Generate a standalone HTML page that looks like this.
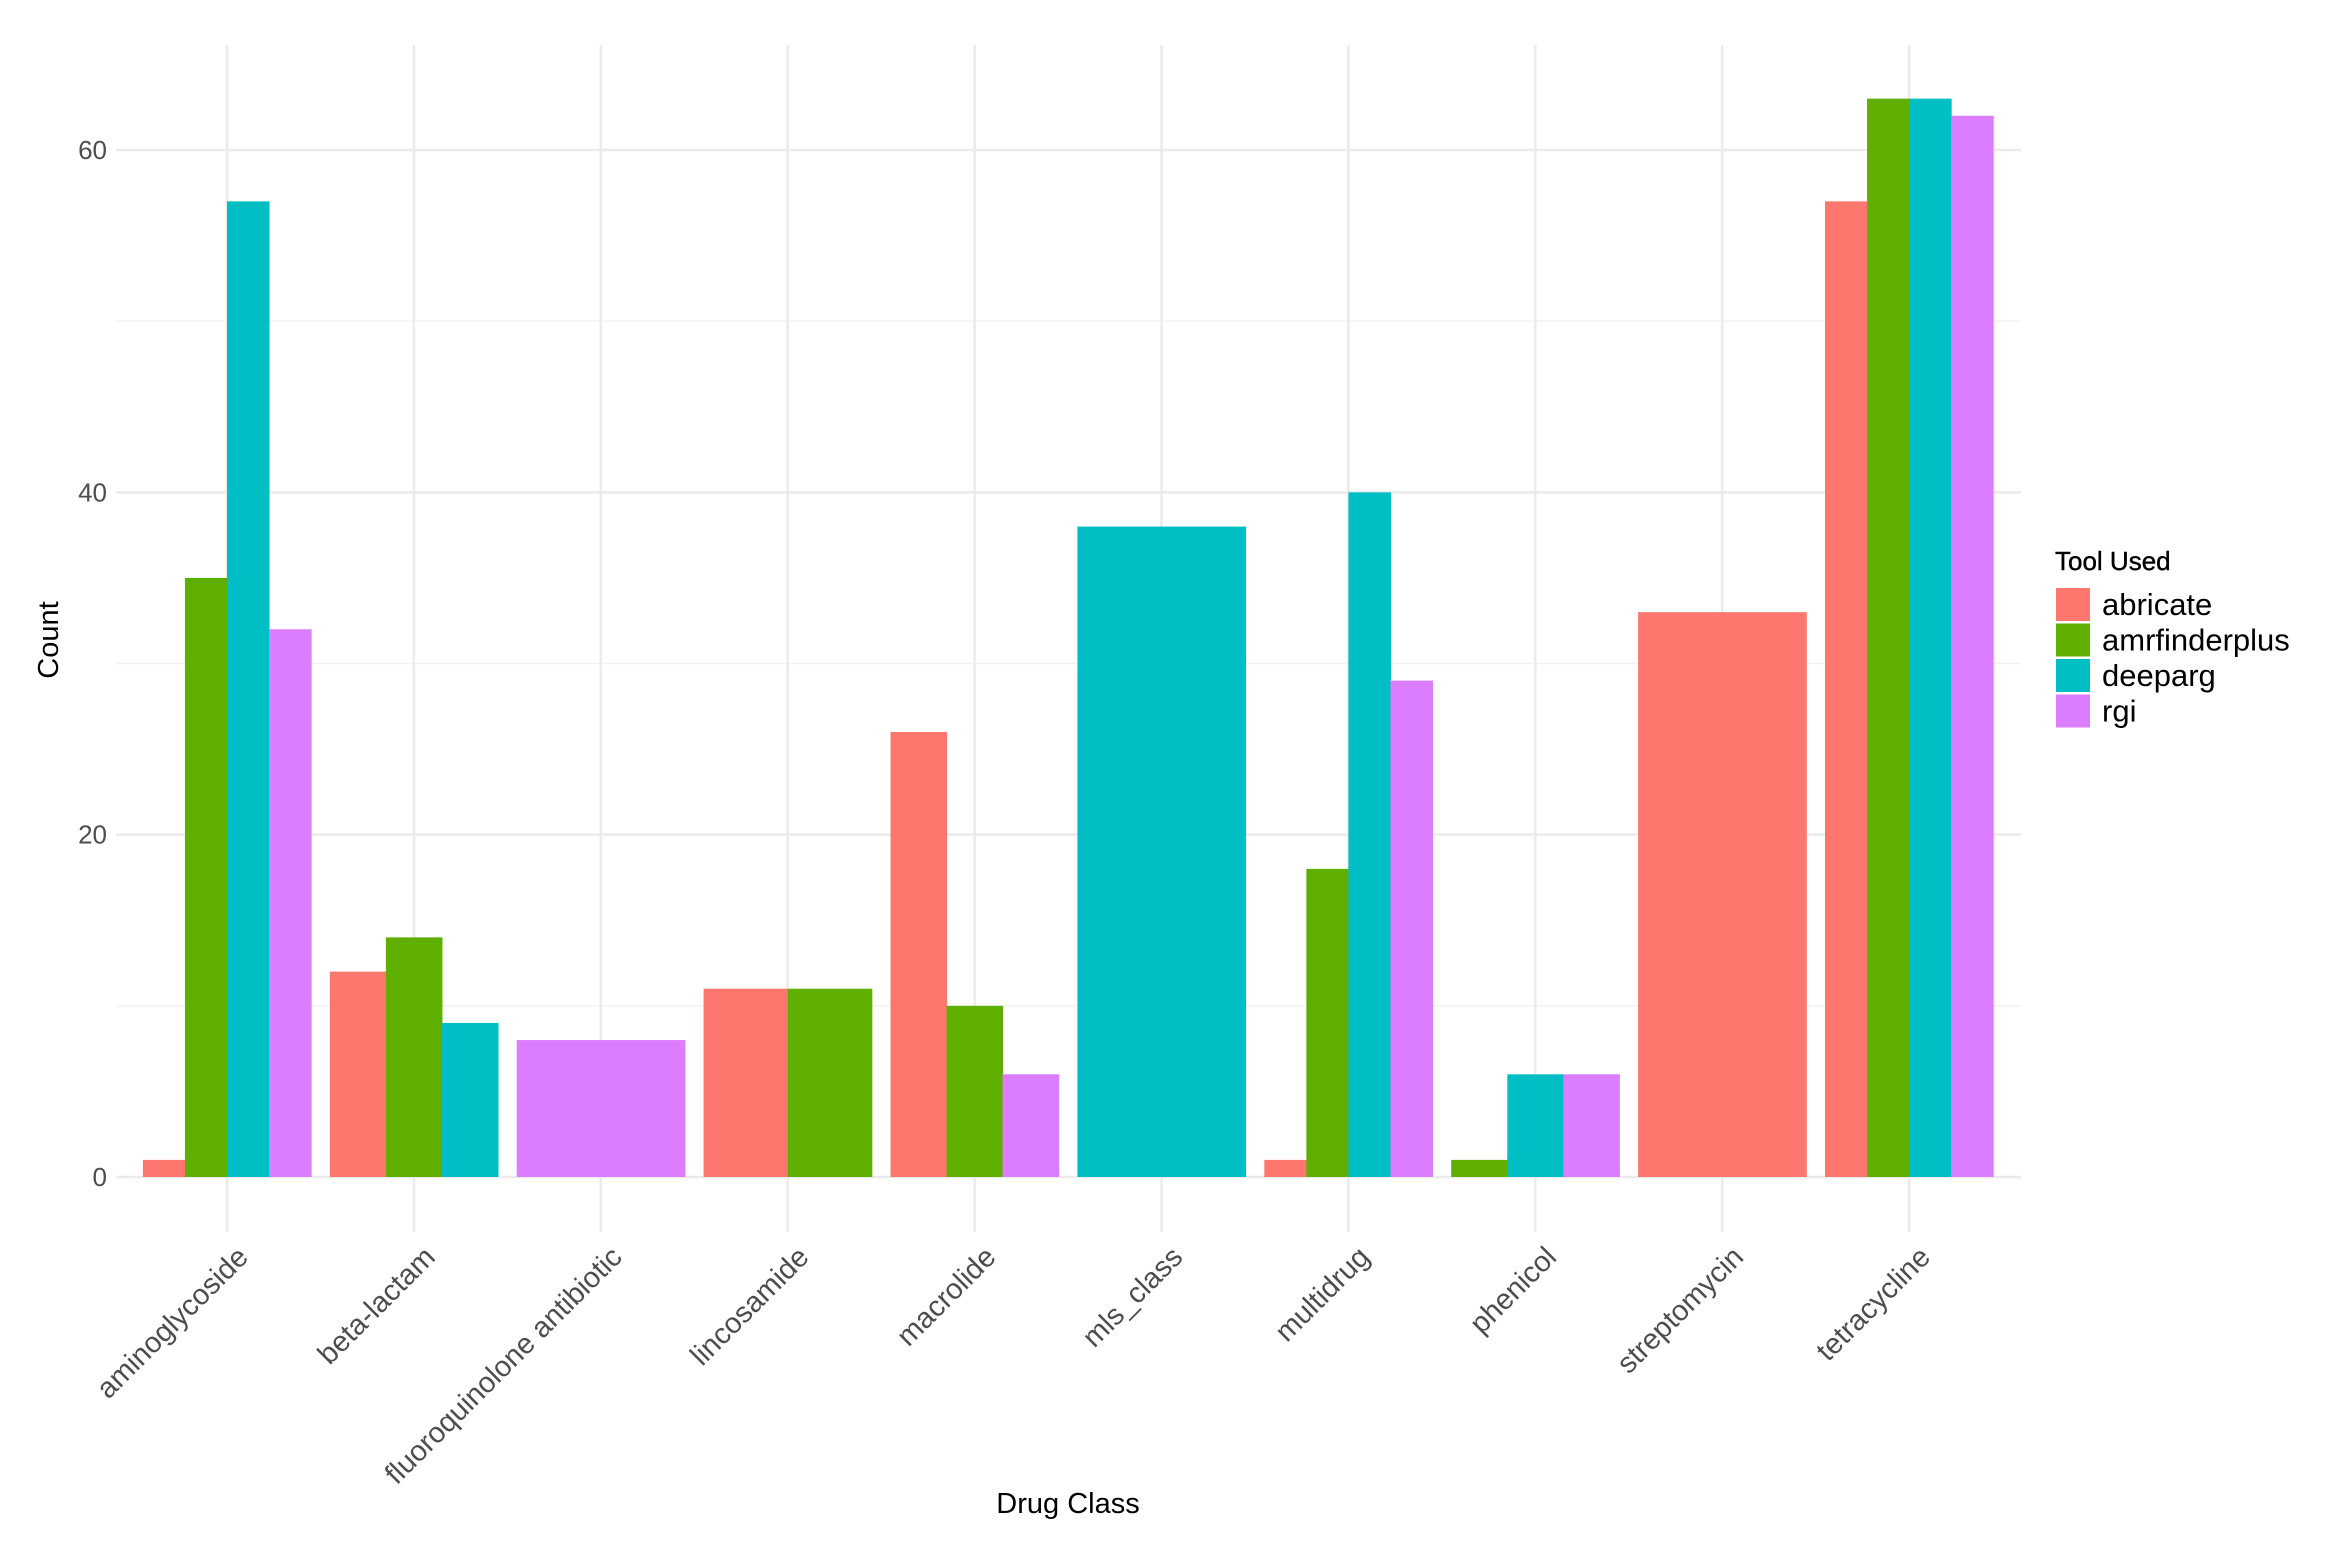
<!DOCTYPE html>
<html><head><meta charset="utf-8"><style>
html,body{margin:0;padding:0;background:#fff;}
svg{display:block;font-family:"Liberation Sans",Arial,sans-serif;}
</style></head><body>
<svg id="chart" width="2331" height="1554" viewBox="0 0 2331 1554" xmlns="http://www.w3.org/2000/svg">
<rect x="0" y="0" width="2331" height="1554" fill="#fff"/>
<g id="grid"></g>
<g id="bars"></g>
<g id="yticks"></g>
<g id="xticks"></g>
<text x="0" y="0" transform="translate(58,640) rotate(-90)" text-anchor="middle" font-size="29" fill="#000">Count</text>
<text x="1068" y="1513" text-anchor="middle" font-size="29" fill="#000">Drug Class</text>
<g id="legend">
<text x="2055" y="570" font-size="26" fill="#000" stroke="#000" stroke-width="0.4">Tool Used</text>
</g>
</svg>
<script>
const categories = ["aminoglycoside","beta-lactam","fluoroquinolone antibiotic","lincosamide","macrolide","mls_class","multidrug","phenicol","streptomycin","tetracycline"];
const tools = ["abricate","amrfinderplus","deeparg","rgi"];
const colors = ["#FE776E","#5EAF00","#00BFC4","#DC7CFF"];
const abricate =      [1, 12, null, 11, 26, null, 1, null, 33, 57];
const amrfinderplus = [35, 14, null, 11, 10, null, 18, 1, null, 63];
const deeparg =       [57, 9, null, null, null, 38, 40, 6, null, 63];
const rgi =           [32, null, 8, null, 6, null, 29, 6, null, 62];
const yTicks = [0, 20, 40, 60];
const yMinor = [10, 30, 50];

const NS = "http://www.w3.org/2000/svg";
const panel = {left:116, right:2021, top:45, bottom:1232};
const x0 = 227, step = 186.9;
function xScale(i){ return x0 + i*step; }
const y0 = 1177, yPerUnit = (1177-150)/60;
function yScale(v){ return y0 - v*yPerUnit; }
function mk(tag, attrs, parent){ const e=document.createElementNS(NS,tag); for(const k in attrs) e.setAttribute(k,attrs[k]); parent.appendChild(e); return e; }

const grid = document.getElementById('grid');
yMinor.forEach(v=>{
  const l = mk('line',{x1:panel.left,x2:panel.right,y1:yScale(v),y2:yScale(v),stroke:'#f2f2f2','stroke-width':1.5},grid);
  
  
});
yTicks.forEach(v=>{
  const l = mk('line',{x1:panel.left,x2:panel.right,y1:yScale(v),y2:yScale(v),stroke:'#ebebeb','stroke-width':2.5},grid);
  
  
});
categories.forEach((c,i)=>{
  const l = mk('line',{x1:xScale(i),x2:xScale(i),y1:panel.top,y2:panel.bottom,stroke:'#ebebeb','stroke-width':2.5},grid);
  
  
});

const series = [abricate, amrfinderplus, deeparg, rgi];
const bars = document.getElementById('bars');
const total = 0.9*step;
categories.forEach((c,i)=>{
  const present = [];
  series.forEach((s,j)=>{ if(s[i]!==null && s[i]!==undefined) present.push(j); });
  const w = total/present.length;
  const start = xScale(i) - total/2;
  present.forEach((j,k)=>{
    const v = series[j][i];
    const r = mk('rect',{x:start+k*w,y:yScale(v),width:w+0.5,height:yScale(0)-yScale(v),fill:colors[j]},bars);
    
    
  });
});

const yt = document.getElementById('yticks');
yTicks.forEach(v=>{
  const t = mk('text',{x:107,y:yScale(v)+9,'text-anchor':'end','font-size':26,fill:'#4d4d4d'},yt);
  t.textContent = v;
  
  
});

const xt = document.getElementById('xticks');
categories.forEach((c,i)=>{
  const ax = xScale(i)+8, ay = 1244;
  const t = mk('text',{x:0,y:0,dy:'0.72em','text-anchor':'end','font-size':29,fill:'#4d4d4d',transform:`translate(${ax},${ay}) rotate(-45)`},xt);
  t.textContent = c;
  
  
});

const lg = document.getElementById('legend');
tools.forEach((tname,j)=>{
  const yy = 588 + j*35.5;
  const r = mk('rect',{x:2056,y:yy,width:34,height:33,fill:colors[j]},lg);
  
  
  const t = mk('text',{x:2102,y:yy+27,'font-size':31,fill:'#000'},lg);
  t.textContent = tname;
  
  
});
</script>
</body></html>
